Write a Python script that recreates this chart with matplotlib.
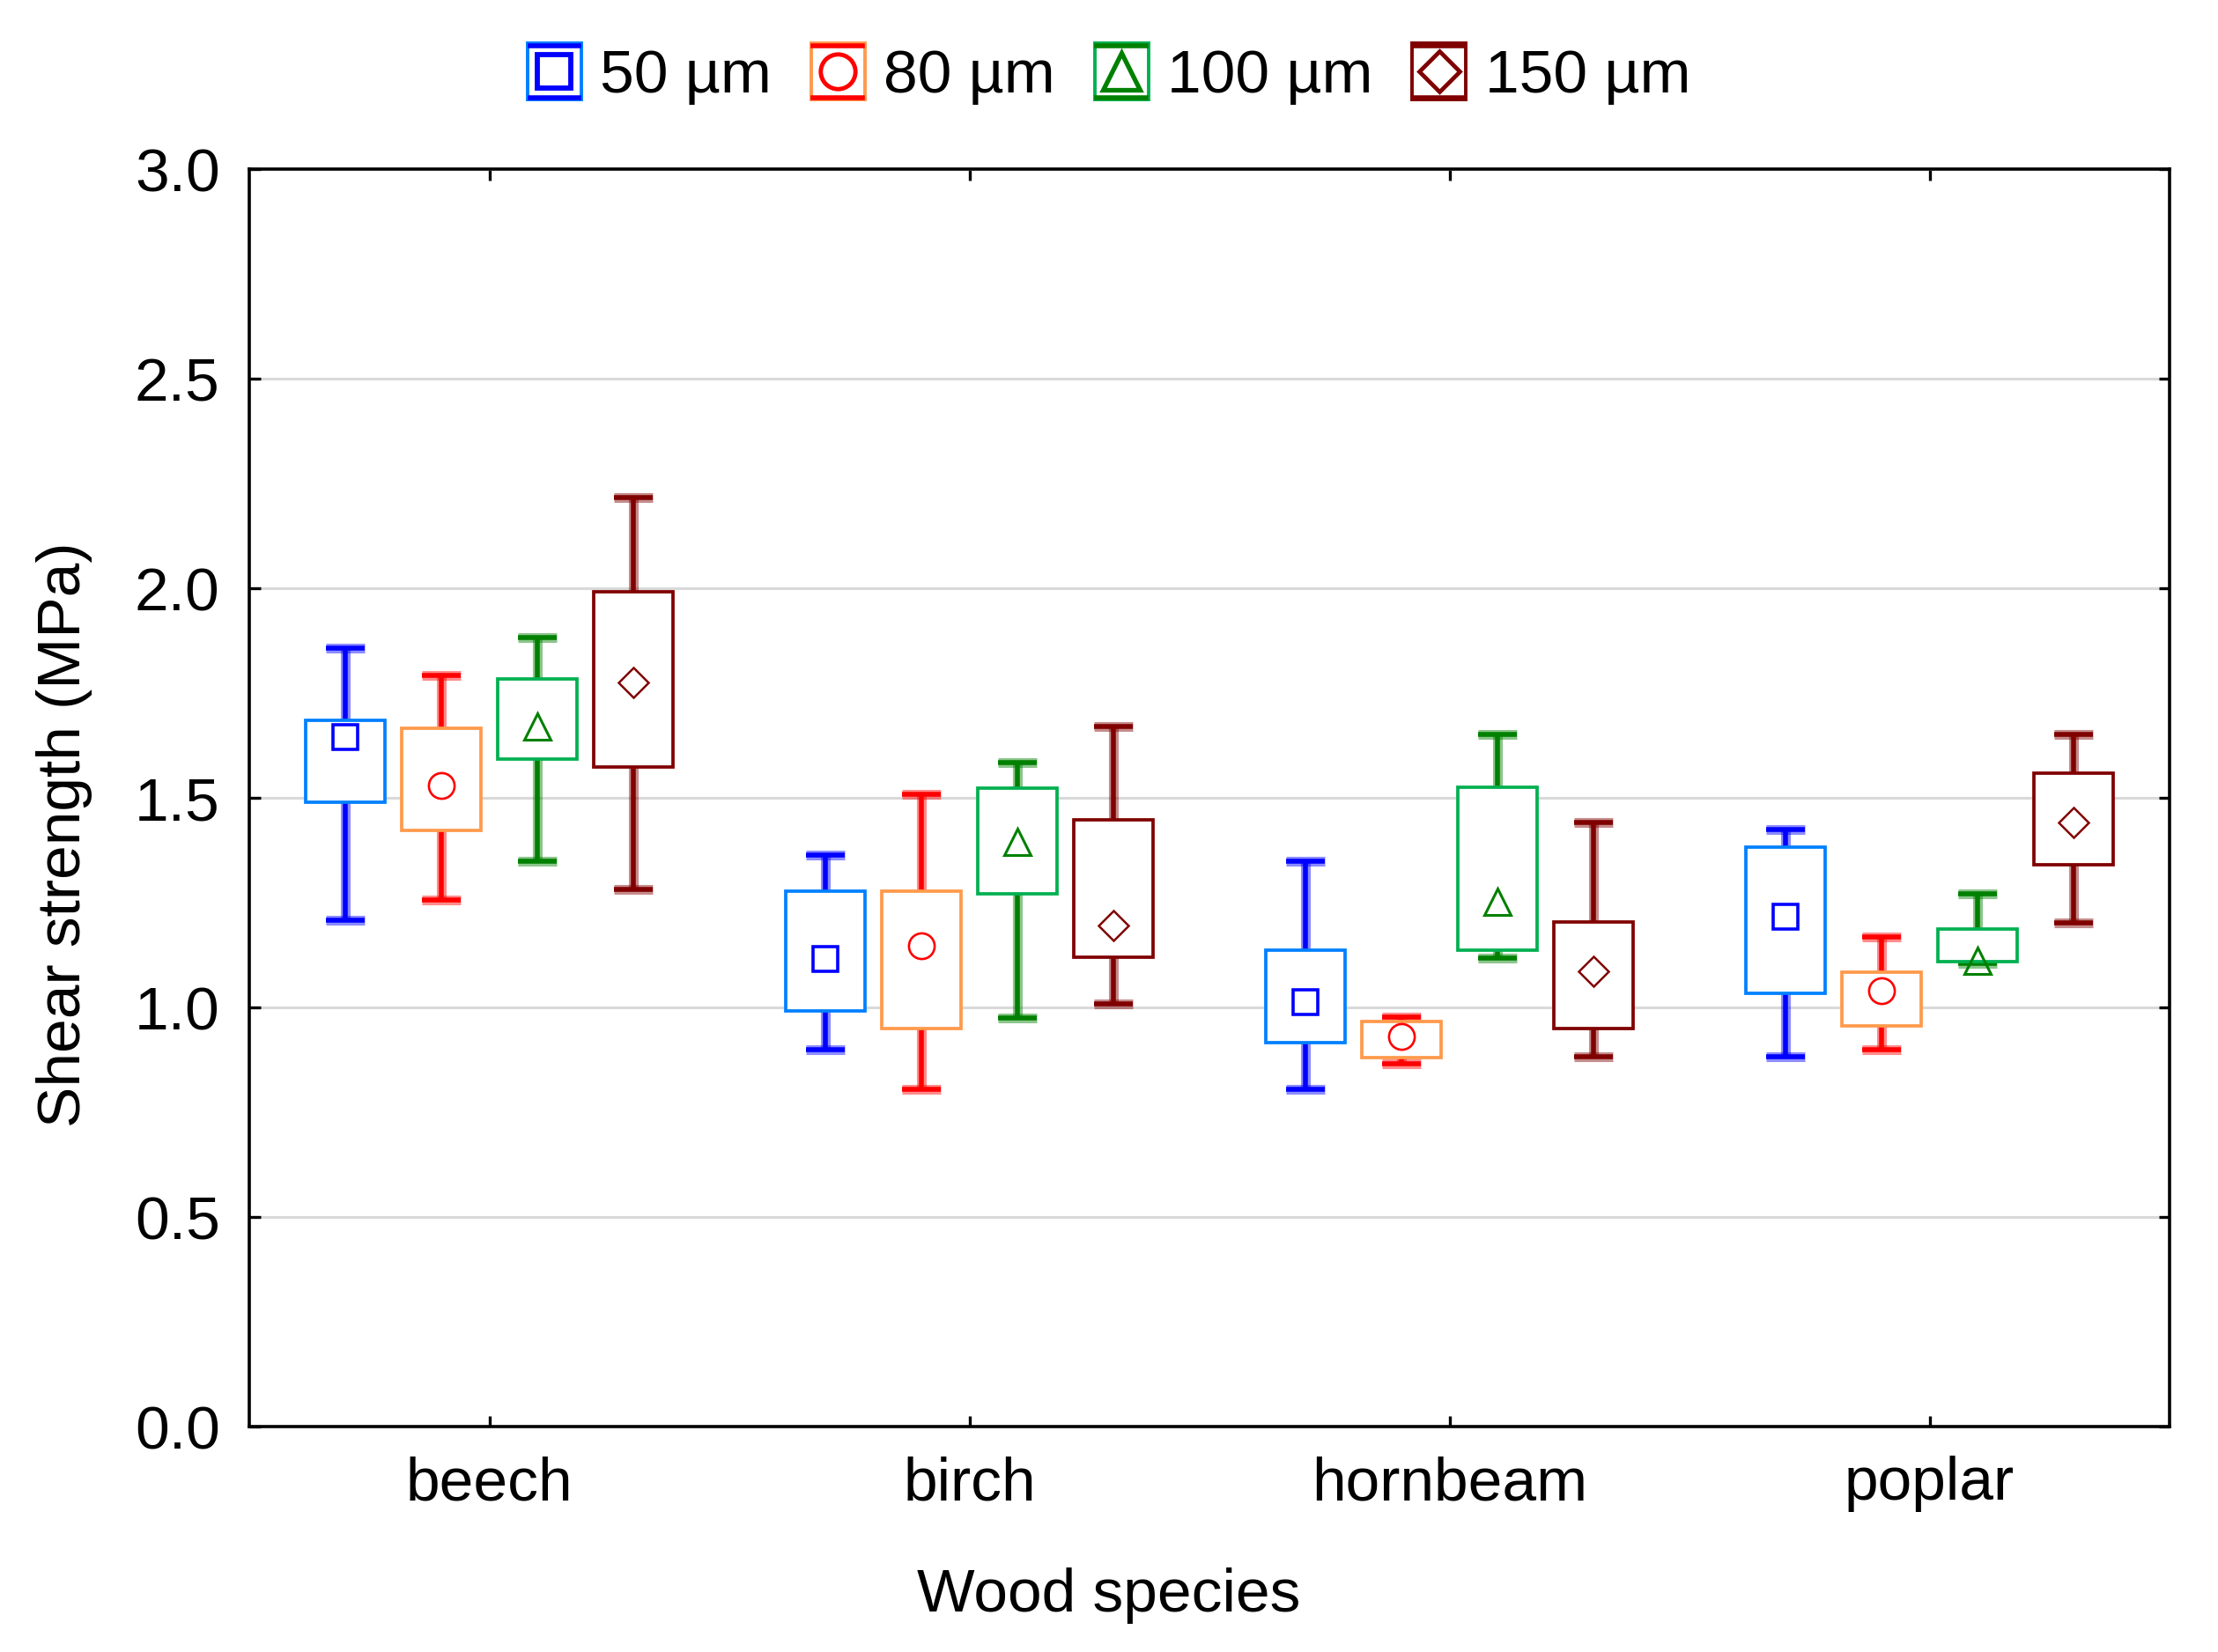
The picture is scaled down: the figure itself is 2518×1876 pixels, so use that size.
import numpy as np
import matplotlib
matplotlib.use('Agg')
import matplotlib.pyplot as plt
from matplotlib.patches import Rectangle
from matplotlib.lines import Line2D
from matplotlib.legend_handler import HandlerBase
from matplotlib.ticker import FormatStrFormatter

plt.rcParams['font.family'] = ['Liberation Sans', 'DejaVu Sans']

species = ['beech', 'birch', 'hornbeam', 'poplar']
sizes = ['50 µm', '80 µm', '100 µm', '150 µm']

# centre marker (mean)
mean_50 = [1.646, 1.116, 1.013, 1.216]
mean_80 = [1.529, 1.148, 0.930, 1.039]
mean_100 = [1.670, 1.396, 1.252, 1.111]
mean_150 = [1.775, 1.195, 1.086, 1.441]

# box bottom / top
box_lo_50 = [1.490, 0.992, 0.916, 1.034]
box_hi_50 = [1.684, 1.278, 1.136, 1.382]
box_lo_80 = [1.423, 0.949, 0.881, 0.956]
box_hi_80 = [1.666, 1.278, 0.967, 1.085]
box_lo_100 = [1.592, 1.271, 1.136, 1.110]
box_hi_100 = [1.783, 1.524, 1.526, 1.187]
box_lo_150 = [1.574, 1.120, 0.949, 1.340]
box_hi_150 = [1.992, 1.448, 1.204, 1.559]

# whisker ends
wh_lo_50 = [1.208, 0.899, 0.805, 0.883]
wh_hi_50 = [1.858, 1.364, 1.348, 1.424]
wh_lo_80 = [1.257, 0.805, 0.865, 0.899]
wh_hi_80 = [1.791, 1.508, 0.977, 1.169]
wh_lo_100 = [1.349, 0.974, 1.118, 1.104]
wh_hi_100 = [1.883, 1.584, 1.652, 1.271]
wh_lo_150 = [1.281, 1.009, 0.883, 1.202]
wh_hi_150 = [2.217, 1.670, 1.441, 1.652]

means = [mean_50, mean_80, mean_100, mean_150]
box_lo = [box_lo_50, box_lo_80, box_lo_100, box_lo_150]
box_hi = [box_hi_50, box_hi_80, box_hi_100, box_hi_150]
wh_lo = [wh_lo_50, wh_lo_80, wh_lo_100, wh_lo_150]
wh_hi = [wh_hi_50, wh_hi_80, wh_hi_100, wh_hi_150]

box_colors = ['#0080FF', '#FF9A4C', '#00B050', '#800000']
line_colors = ['#0000FF', '#FF0000', '#008000', '#800000']
markers = ['s', 'o', '^', 'D']
msizes = [20.5, 21, 22, 17.5]
mews = [2.6, 1.9, 2.2, 1.8]
offsets = [-0.3, -0.1, 0.1, 0.3]
bw = 0.165
cw = 0.082


class BoxKey:
    def __init__(self, k):
        self.k = k


class BoxKeyHandler(HandlerBase):
    def create_artists(self, legend, h, xd, yd, w, ht, fontsize, trans):
        k = h.k
        x0, y0 = -xd, -yd
        r = Rectangle((x0, y0), w, ht, fc='white', ec=box_colors[k], lw=2.8, transform=trans)
        top = Line2D([x0 + 2, x0 + w - 2], [y0 + ht - 2, y0 + ht - 2], color=line_colors[k], lw=4, transform=trans)
        bot = Line2D([x0 + 2, x0 + w - 2], [y0 + 2, y0 + 2], color=line_colors[k], lw=4, transform=trans)
        m = Line2D([x0 + w / 2], [y0 + ht / 2], marker=markers[k], ms=msizes[k] * 1.35, mfc='none',
                   mec=line_colors[k], mew=mews[k] + 1.6, ls='none', transform=trans)
        return [r, top, bot, m]


fig = plt.figure(figsize=(25.18, 18.76), dpi=100)
ax = fig.add_axes([283 / 2518, 1 - 1620 / 1876, 2180 / 2518, (1620 - 192) / 1876])

xbase = np.arange(1, len(species) + 1)
for j in range(len(sizes)):
    lc = line_colors[j]
    for i in range(len(species)):
        x = xbase[i] + offsets[j]
        # whisker with soft edge
        ax.plot([x, x], [wh_lo[j][i], wh_hi[j][i]], color=lc, lw=8, alpha=0.45, solid_capstyle='butt', zorder=2)
        ax.plot([x, x], [wh_lo[j][i], wh_hi[j][i]], color=lc, lw=4, solid_capstyle='butt', zorder=2)
        for yv in (wh_lo[j][i], wh_hi[j][i]):
            ax.plot([x - cw / 2, x + cw / 2], [yv, yv], color=lc, lw=8, alpha=0.45, solid_capstyle='butt', zorder=2)
            ax.plot([x - cw / 2, x + cw / 2], [yv, yv], color=lc, lw=4, solid_capstyle='butt', zorder=2)
        ax.add_patch(Rectangle((x - bw / 2, box_lo[j][i]), bw, box_hi[j][i] - box_lo[j][i],
                               fc='white', ec=box_colors[j], lw=2.7, zorder=3))
        ax.plot(x, means[j][i], marker=markers[j], ms=msizes[j], mfc='none', mec=lc,
                mew=mews[j], ls='none', zorder=4)

ax.set_xlim(0.5, 4.5)
ax.set_ylim(0, 3.0)
ax.set_xticks(xbase)
ax.set_xticklabels(species)
ax.set_yticks(np.arange(0, 3.01, 0.5))
ax.yaxis.set_major_formatter(FormatStrFormatter('%.1f'))
ax.grid(axis='y', color='#D9D9D9', lw=2.2, zorder=0)
ax.set_axisbelow(True)
for s in ax.spines.values():
    s.set_linewidth(2.6)
ax.tick_params(direction='in', top=True, right=True, length=9, width=2.4, labelsize=50)
ax.tick_params(axis='x', pad=24)
ax.tick_params(axis='y', pad=24)

fig.text(73 / 2518, 1 - 948 / 1876, 'Shear strength (MPa)', rotation=90, ha='center', va='center', fontsize=50)
fig.text(0.5, 1 - 1830 / 1876, 'Wood species', ha='center', va='baseline', fontsize=50)

keys = [BoxKey(k) for k in range(len(sizes))]
fig.legend(keys, sizes, handler_map={BoxKey: BoxKeyHandler()}, loc='center',
           bbox_to_anchor=(0.5, 1 - 84 / 1876), ncol=4, frameon=False, fontsize=50,
           handlelength=0.88, handleheight=1.05, handletextpad=0.31, columnspacing=0.64)

fig.savefig('out.png', dpi=100)
